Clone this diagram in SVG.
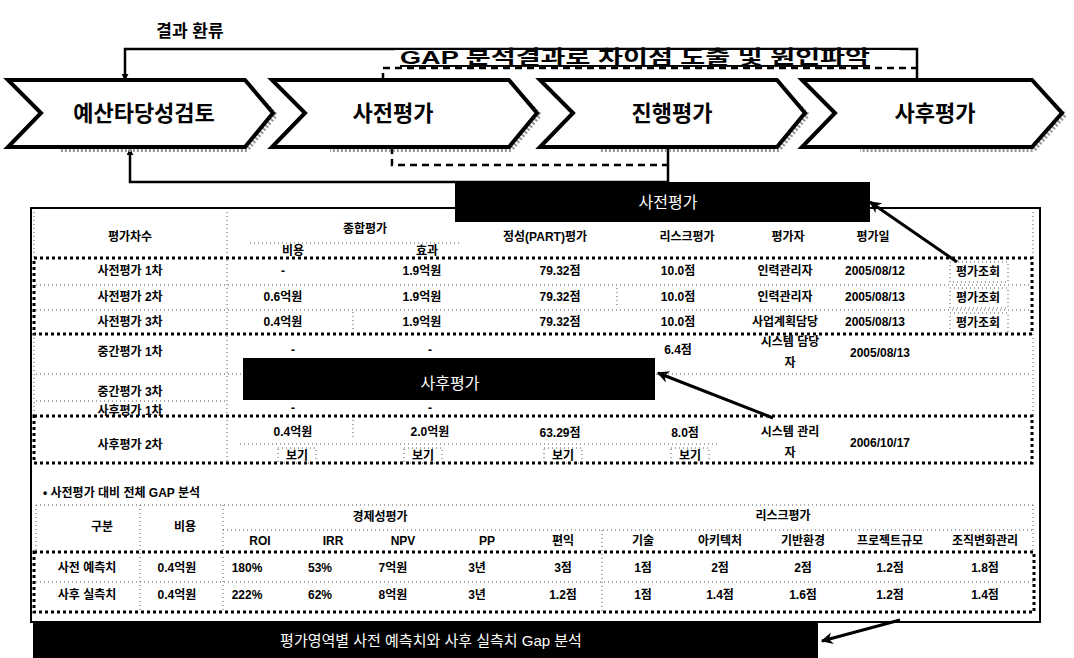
<svg xmlns="http://www.w3.org/2000/svg" width="1074" height="658" viewBox="0 0 1074 658">
<defs>
<marker id="ah" viewBox="0 0 10 10" refX="9" refY="5" markerWidth="7" markerHeight="7" orient="auto-start-reverse" markerUnits="userSpaceOnUse">
<path d="M0,0 L10,5 L0,10 z" fill="#000"/>
</marker>
<marker id="ahb" viewBox="0 0 10 10" refX="9" refY="5" markerWidth="14" markerHeight="12" orient="auto" markerUnits="userSpaceOnUse">
<path d="M0,0 L10,5 L0,10 L3,5 z" fill="#000"/>
</marker>
</defs>
<style>
text{font-family:"Liberation Sans","Noto Sans CJK KR",sans-serif;fill:#000}
.chev{fill:#fff;stroke:#000;stroke-width:4;stroke-linejoin:miter}
.shadow{fill:none;stroke:#999;stroke-width:4;stroke-dasharray:2 2}
.ct{font-size:22px;font-weight:bold;text-anchor:middle}
.blk{fill:#000}
.bt{fill:#fff;font-size:16px;text-anchor:middle}
.t{font-size:12px;font-weight:bold;text-anchor:middle}
.heavy{fill:none;stroke:#000;stroke-width:3;stroke-dasharray:3 3}
.light{fill:none;stroke:#555;stroke-width:1;stroke-dasharray:1 3}
.line{fill:none;stroke:#000;stroke-width:2.5}
.dash{fill:none;stroke:#000;stroke-width:2.5;stroke-dasharray:7 5}
.arr{fill:none;stroke:#000;stroke-width:3}
</style>
<rect width="1074" height="658" fill="#fff"/>

<text x="190" y="37" style="font-size:17px;font-weight:bold;text-anchor:middle">결과 환류</text>

<g id="connectors">
<path class="line" d="M917,80 V49 H125 V80" marker-end="url(#ah)"/>
<path class="dash" d="M383,80 V68 H917"/>
<path class="line" d="M668,147 V182 H130 V149" marker-end="url(#ah)"/>
<path class="dash" d="M392,147 V165 H668"/>
<line class="arr" x1="957" y1="262" x2="870" y2="202" marker-end="url(#ahb)"/>
<line class="arr" x1="773" y1="418" x2="658" y2="373" marker-end="url(#ahb)"/>
<line class="arr" x1="900" y1="620" x2="822" y2="641" marker-end="url(#ahb)"/>
</g>

<g id="gap-label">
<rect x="395" y="50" width="505" height="16" fill="#fff"/>
<text x="400" y="64" style="font-size:19px;font-weight:bold;text-decoration:underline" textLength="470" lengthAdjust="spacingAndGlyphs">GAP 분석결과로 차이점 도출 및 원인파악</text>
</g>

<g id="step-budget">
<path class="shadow" d="M247,84 L276,115 L247,150 H60"/>
<polygon class="chev" points="8,80 245,80 273,113 245,147 8,147 41,113"/>
<text class="ct" x="144" y="121">예산타당성검토</text>
</g>
<g id="step-pre">
<path class="shadow" d="M511,84 L540,115 L511,150 H330"/>
<polygon class="chev" points="272,80 509,80 537,113 509,147 272,147 305,113"/>
<text class="ct" x="393" y="121">사전평가</text>
</g>
<g id="step-mid">
<path class="shadow" d="M779,84 L808,115 L779,150 H600"/>
<polygon class="chev" points="540,80 777,80 805,113 777,147 540,147 573,113"/>
<text class="ct" x="672" y="121">진행평가</text>
</g>
<g id="step-post">
<path class="shadow" d="M1034,84 L1065,115 L1034,150 H860"/>
<polygon class="chev" points="802,80 1032,80 1062,113 1032,147 802,147 835,113"/>
<text class="ct" x="935" y="121">사후평가</text>
</g>

<g id="frame">
<rect x="31" y="208" width="1009" height="414" fill="none" stroke="#000" stroke-width="2"/>
</g>

<g id="table-history">
<line class="light" x1="34" y1="212" x2="34" y2="258"/>
<line class="light" x1="227" y1="212" x2="227" y2="463"/>
<line class="light" x1="1033" y1="212" x2="1033" y2="258"/>
<line class="light" x1="250" y1="243" x2="460" y2="243"/>
<text class="t" x="130" y="241">평가차수</text>
<text class="t" x="365" y="233">종합평가</text>
<text class="t" x="293" y="255">비용</text>
<text class="t" x="427" y="255">효과</text>
<text class="t" x="545" y="241">정성(PART)평가</text>
<text class="t" x="687" y="241">리스크평가</text>
<text class="t" x="788" y="241">평가자</text>
<text class="t" x="873" y="241">평가일</text>

<rect class="heavy" x="34" y="258" width="998" height="76"/>
<line class="light" x1="36" y1="285" x2="1030" y2="285"/>
<line class="light" x1="36" y1="310" x2="1030" y2="310"/>
<line class="light" x1="353" y1="312" x2="353" y2="332"/>
<line class="light" x1="617" y1="288" x2="617" y2="308"/>
<rect class="light" x="950" y="262" width="58" height="20"/>
<rect class="light" x="950" y="288" width="58" height="20"/>
<rect class="light" x="950" y="313" width="58" height="20"/>

<text class="t" x="130" y="275">사전평가 1차</text>
<text class="t" x="283" y="275">-</text>
<text class="t" x="422" y="275">1.9억원</text>
<text class="t" x="560" y="275">79.32점</text>
<text class="t" x="678" y="275">10.0점</text>
<text class="t" x="785" y="275">인력관리자</text>
<text class="t" x="875" y="275">2005/08/12</text>
<text class="t" x="978" y="276">평가조회</text>

<text class="t" x="130" y="301">사전평가 2차</text>
<text class="t" x="283" y="301">0.6억원</text>
<text class="t" x="422" y="301">1.9억원</text>
<text class="t" x="560" y="301">79.32점</text>
<text class="t" x="678" y="301">10.0점</text>
<text class="t" x="785" y="301">인력관리자</text>
<text class="t" x="875" y="301">2005/08/13</text>
<text class="t" x="978" y="302">평가조회</text>

<text class="t" x="130" y="326">사전평가 3차</text>
<text class="t" x="283" y="326">0.4억원</text>
<text class="t" x="422" y="326">1.9억원</text>
<text class="t" x="560" y="326">79.32점</text>
<text class="t" x="678" y="326">10.0점</text>
<text class="t" x="785" y="326">사업계획담당</text>
<text class="t" x="875" y="326">2005/08/13</text>
<text class="t" x="978" y="327">평가조회</text>

<line class="light" x1="34" y1="334" x2="34" y2="416"/>
<line class="light" x1="1033" y1="334" x2="1033" y2="416"/>
<line class="light" x1="36" y1="374" x2="1030" y2="374"/>
<line class="light" x1="36" y1="401" x2="227" y2="401"/>
<text class="t" x="130" y="356">중간평가 1차</text>
<text class="t" x="293" y="354">-</text>
<text class="t" x="430" y="354">-</text>
<text class="t" x="678" y="354">6.4점</text>
<text class="t" x="790" y="346">시스템 담당</text>
<text class="t" x="790" y="367">자</text>
<text class="t" x="880" y="357">2005/08/13</text>
<text class="t" x="130" y="396">중간평가 3차</text>
<text class="t" x="130" y="415">사후평가 1차</text>
<text class="t" x="293" y="412">-</text>
<text class="t" x="430" y="412">-</text>

<rect class="heavy" x="34" y="416" width="998" height="47"/>
<line class="light" x1="240" y1="444" x2="720" y2="444"/>
<line class="light" x1="353" y1="420" x2="353" y2="440"/>
<text class="t" x="130" y="449">사후평가 2차</text>
<text class="t" x="293" y="436">0.4억원</text>
<text class="t" x="430" y="436">2.0억원</text>
<text class="t" x="560" y="437">63.29점</text>
<text class="t" x="685" y="437">8.0점</text>
<text class="t" x="790" y="436">시스템 관리</text>
<text class="t" x="790" y="457">자</text>
<text class="t" x="880" y="447">2006/10/17</text>
<rect class="light" x="278" y="448" width="38" height="15"/>
<rect class="light" x="404" y="448" width="38" height="15"/>
<rect class="light" x="544" y="448" width="38" height="15"/>
<rect class="light" x="671" y="448" width="38" height="15"/>
<text class="t" x="297" y="460">보기</text>
<text class="t" x="423" y="460">보기</text>
<text class="t" x="563" y="460">보기</text>
<text class="t" x="690" y="460">보기</text>
</g>

<g id="label-pre">
<rect class="blk" x="455" y="182" width="415" height="40"/>
<text class="bt" x="668" y="208">사전평가</text>
</g>

<g id="label-post">
<rect class="blk" x="243" y="358" width="412" height="42"/>
<text class="bt" x="450" y="389">사후평가</text>
</g>

<g id="table-gap">
<text x="43" y="497" style="font-size:12px;font-weight:bold">• 사전평가 대비 전체 GAP 분석</text>
<line class="light" x1="36" y1="505" x2="1033" y2="505"/>
<line class="light" x1="36" y1="505" x2="36" y2="552"/>
<line class="light" x1="1033" y1="505" x2="1033" y2="552"/>
<line class="light" x1="140" y1="505" x2="140" y2="612"/>
<line class="light" x1="223" y1="505" x2="223" y2="612"/>
<line class="light" x1="602" y1="530" x2="602" y2="612"/>
<line class="light" x1="223" y1="530" x2="1033" y2="530"/>
<line class="light" x1="36" y1="582" x2="1033" y2="582"/>
<text class="t" x="102" y="531">구분</text>
<text class="t" x="185" y="531">비용</text>
<text class="t" x="380" y="521">경제성평가</text>
<text class="t" x="783" y="520">리스크평가</text>
<text class="t" x="260" y="545">ROI</text>
<text class="t" x="333" y="545">IRR</text>
<text class="t" x="403" y="545">NPV</text>
<text class="t" x="487" y="545">PP</text>
<text class="t" x="563" y="545">편익</text>
<text class="t" x="643" y="545">기술</text>
<text class="t" x="720" y="545">아키텍처</text>
<text class="t" x="803" y="545">기반환경</text>
<text class="t" x="890" y="545">프로젝트규모</text>
<text class="t" x="985" y="545">조직변화관리</text>

<rect class="heavy" x="34" y="552" width="1000" height="60"/>
<text class="t" x="87" y="572">사전 예측치</text>
<text class="t" x="177" y="572">0.4억원</text>
<text class="t" x="247" y="572">180%</text>
<text class="t" x="320" y="572">53%</text>
<text class="t" x="393" y="572">7억원</text>
<text class="t" x="477" y="572">3년</text>
<text class="t" x="563" y="572">3점</text>
<text class="t" x="643" y="572">1점</text>
<text class="t" x="720" y="572">2점</text>
<text class="t" x="803" y="572">2점</text>
<text class="t" x="890" y="572">1.2점</text>
<text class="t" x="985" y="572">1.8점</text>

<text class="t" x="87" y="599">사후 실측치</text>
<text class="t" x="177" y="599">0.4억원</text>
<text class="t" x="247" y="599">222%</text>
<text class="t" x="320" y="599">62%</text>
<text class="t" x="393" y="599">8억원</text>
<text class="t" x="477" y="599">3년</text>
<text class="t" x="563" y="599">1.2점</text>
<text class="t" x="643" y="599">1점</text>
<text class="t" x="720" y="599">1.4점</text>
<text class="t" x="803" y="599">1.6점</text>
<text class="t" x="890" y="599">1.2점</text>
<text class="t" x="985" y="599">1.4점</text>
</g>

<g id="label-gap">
<rect class="blk" x="33" y="622" width="785" height="36"/>
<text class="bt" x="431" y="646" style="font-size:15px">평가영역별 사전 예측치와 사후 실측치 Gap 분석</text>
</g>
</svg>
